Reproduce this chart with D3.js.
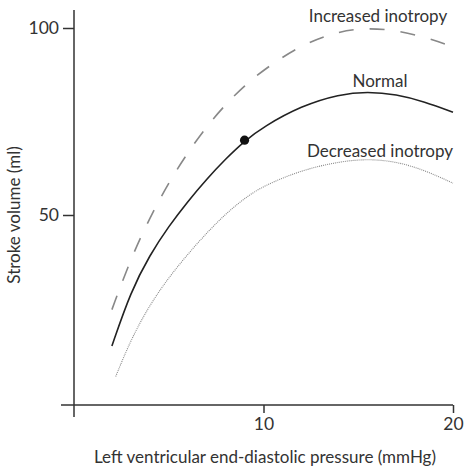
<!DOCTYPE html>
<html>
<head>
<meta charset="utf-8">
<script src="https://cdn.jsdelivr.net/npm/d3@7"></script>
<style>
  body { margin: 0; background: #fff; }
  text { font-family: Lato, "Open Sans", sans-serif; fill: #333; }
</style>
</head>
<body>
<svg id="chart" width="465" height="475"></svg>
<script>
// Frank-Starling curves, values
var pressure  = [2, 3, 4, 5, 6, 7, 8, 9, 10, 12, 14, 15.5, 17, 18.5, 20];
var normal    = [15, 29.6, 39.3, 47, 53.6, 59.6, 65, 69.8, 73.6, 79.2, 82.3, 83, 82.3, 80.3, 77.5];
var increased = [24.7, 38.4, 49.3, 58.7, 66.7, 73.7, 79.6, 84.6, 88.8, 95.6, 99.2, 100, 99.4, 97.6, 95];
var decreasedX = [2.2, 3, 4, 5, 6, 7, 8, 9, 10, 12, 14, 15.5, 17, 18.5, 20];
var decreased = [6.8, 16.7, 26, 33.3, 39.5, 45.2, 50.3, 54.5, 57.8, 62, 64.3, 65, 64.3, 62, 58.5];
var xTicks = [10, 20];
var yTicks = [50, 100];
var point = {x: 9, y: 70};

var svg = d3.select("#chart");

var x = d3.scaleLinear().domain([0, 20]).range([74, 453]);
var y = d3.scaleLinear().domain([0, 100]).range([402, 28]);

var axisColor = "#333";
var xAxisY = 405;

// x axis
var gx = svg.append("g")
    .attr("transform", "translate(0," + xAxisY + ")")
    .call(d3.axisBottom(x).tickValues(xTicks).tickSize(8).tickPadding(5).tickSizeOuter(0));
gx.select(".domain").remove();
gx.append("line")
    .attr("x1", x(0) - 13).attr("x2", x(20))
    .attr("stroke", axisColor).attr("stroke-width", 1.5);

// y axis
var gy = svg.append("g")
    .attr("transform", "translate(" + x(0) + ",0)")
    .call(d3.axisLeft(y).tickValues(yTicks).tickSize(11).tickPadding(4).tickSizeOuter(0));
gy.select(".domain").remove();
gy.append("line")
    .attr("y1", 10).attr("y2", 417)
    .attr("stroke", axisColor).attr("stroke-width", 1.5);

svg.selectAll(".tick line").attr("stroke", axisColor).attr("stroke-width", 1.5);
svg.selectAll(".tick text")
    .style("font-family", "Lato, 'Open Sans', sans-serif")
    .style("font-size", "17.5px")
    .attr("fill", "#333");

// axis titles
svg.append("text")
    .attr("x", 265).attr("y", 463)
    .attr("text-anchor", "middle")
    .style("font-size", "17px")
    .text("Left ventricular end-diastolic pressure (mmHg)");

svg.append("text")
    .attr("transform", "translate(20,215) rotate(-90)")
    .attr("text-anchor", "middle")
    .style("font-size", "17px")
    .text("Stroke volume (ml)");

// curves (basis spline to keep them smooth)
var line = d3.line()
    .x(function(d){ return x(d[0]); })
    .y(function(d){ return y(d[1]); })
    .curve(d3.curveBasis);

svg.append("path")
    .datum(d3.zip(pressure, increased))
    .attr("d", line)
    .attr("fill", "none")
    .attr("stroke", "#888")
    .attr("stroke-width", 1.6)
    .attr("stroke-dasharray", "15,16");

svg.append("path")
    .datum(d3.zip(pressure, normal))
    .attr("d", line)
    .attr("fill", "none")
    .attr("stroke", "#222")
    .attr("stroke-width", 1.6);

svg.append("path")
    .datum(d3.zip(decreasedX, decreased))
    .attr("d", line)
    .attr("fill", "none")
    .attr("stroke", "#888")
    .attr("stroke-width", 1.1)
    .attr("stroke-dasharray", "1,1");

svg.append("circle")
    .attr("cx", x(point.x)).attr("cy", y(point.y))
    .attr("r", 4.6)
    .attr("fill", "#111");

// curve labels
var labels = [
  {text: "Increased inotropy", cx: 378, by: 22},
  {text: "Normal", cx: 380, by: 87},
  {text: "Decreased inotropy", cx: 380, by: 157}
];
svg.selectAll(".curve-label")
  .data(labels)
  .enter()
  .append("text")
  .attr("class", "curve-label")
  .attr("x", function(d){ return d.cx; })
  .attr("y", function(d){ return d.by; })
  .attr("text-anchor", "middle")
  .style("font-size", "17px")
  .text(function(d){ return d.text; });
</script>
</body>
</html>
